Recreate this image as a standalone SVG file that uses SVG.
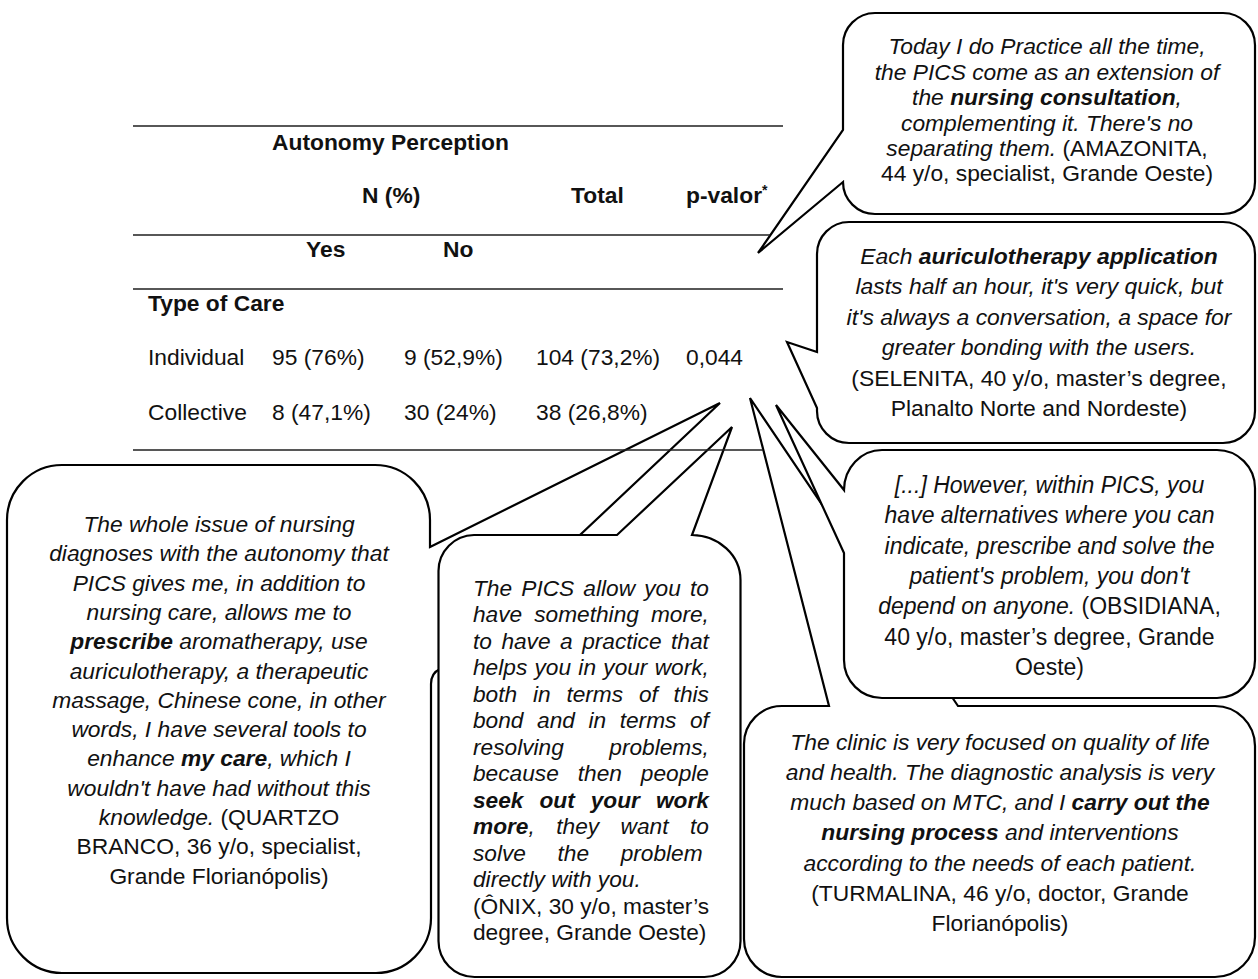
<svg xmlns="http://www.w3.org/2000/svg" width="1258" height="979" viewBox="0 0 1258 979">
<style>
.rule{stroke:#1f1f1f;stroke-width:1.6;fill:none}
.tb{font-family:"Liberation Sans",Arial,sans-serif;font-size:22.8px;fill:#111}
.b{font-weight:bold}
.co{fill:#fff;stroke:#000;stroke-width:2.2;stroke-linejoin:miter}
.q{font-family:"Liberation Sans",Arial,sans-serif;fill:#111;text-anchor:middle;font-style:italic}
.qs{font-family:"Liberation Sans",Arial,sans-serif;fill:#111;font-style:italic}
.r{font-style:normal;font-weight:normal}
</style>
<rect width="1258" height="979" fill="#fff"/>

<g id="quartzo" font-size="22.8">
<path class="co" d="M 430,547 L 720,403 L 580,535 L 580,562 L 456,562 L 456,662 L 440,669 Q 431,673 431,684 L 431,918 A 55 55 0 0 1 376,973 L 62,973 A 55 55 0 0 1 7,918 L 7,520 A 55 55 0 0 1 62,465 L 375,465 A 55 55 0 0 1 430,520 Z"/>
<text class="q" x="219" y="532">The whole issue of nursing</text>
<text class="q" x="219" y="561.3">diagnoses with the autonomy that</text>
<text class="q" x="219" y="590.6">PICS gives me, in addition to</text>
<text class="q" x="219" y="619.9">nursing care, allows me to</text>
<text class="q" x="219" y="649.2"><tspan class="b">prescribe</tspan> aromatherapy, use</text>
<text class="q" x="219" y="678.5">auriculotherapy, a therapeutic</text>
<text class="q" x="219" y="707.8">massage, Chinese cone, in other</text>
<text class="q" x="219" y="737.1">words, I have several tools to</text>
<text class="q" x="219" y="766.4">enhance <tspan class="b">my care</tspan>, which I</text>
<text class="q" x="219" y="795.7">wouldn't have had without this</text>
<text class="q" x="219" y="825">knowledge.<tspan class="r"> (QUARTZO</tspan></text>
<text class="q r" x="219" y="854.3">BRANCO, 36 y/o, specialist,</text>
<text class="q r" x="219" y="883.6">Grande Florianópolis)</text>
</g>

<g id="onix" font-size="22.7">
<path class="co" d="M 474,535 L 617,535 L 732,427 L 692,535 A 49 45 0 0 1 740.5,580 L 740.5,941 A 36 36 0 0 1 704.5,977 L 474.5,977 A 36 36 0 0 1 438.5,941 L 438.5,571 A 36 36 0 0 1 474,535 Z"/>
<text class="qs" x="473" y="595.5" word-spacing="2.86">The PICS allow you to</text>
<text class="qs" x="473" y="622" word-spacing="5.71">have something more,</text>
<text class="qs" x="473" y="648.5" word-spacing="3.16">to have a practice that</text>
<text class="qs" x="473" y="675" word-spacing="0.97">helps you in your work,</text>
<text class="qs" x="473" y="701.5" word-spacing="9.48">both in terms of this</text>
<text class="qs" x="473" y="728" word-spacing="7.27">bond and in terms of</text>
<text class="qs" x="473" y="754.5" word-spacing="39.2">resolving problems,</text>
<text class="qs" x="473" y="781" word-spacing="12.63">because then people</text>
<text class="qs b" x="473" y="807.5" word-spacing="9.7">seek out your work</text>
<text class="qs" x="473" y="834" word-spacing="15.16"><tspan class="b">more</tspan>, they want to</text>
<text class="qs" x="473" y="860.5" word-spacing="25.27">solve the problem</text>
<text class="qs" x="473" y="887">directly with you.</text>
<text class="qs r" x="473" y="913.5">(ÔNIX, 30 y/o, master’s</text>
<text class="qs r" x="473" y="940">degree, Grande Oeste)</text>
</g>

<g id="turmalina" font-size="22.8">
<path class="co" d="M 782,706 L 829,706 L 750,398 L 958,706 L 1215,706 A 40 40 0 0 1 1255,746 L 1255,937 A 40 40 0 0 1 1215,977 L 782,977 A 38 38 0 0 1 744,939 L 744,744 A 38 38 0 0 1 782,706 Z"/>
<text class="q" x="1000" y="749.5">The clinic is very focused on quality of life</text>
<text class="q" x="1000" y="779.8">and health. The diagnostic analysis is very</text>
<text class="q" x="1000" y="810.1">much based on MTC, and I <tspan class="b">carry out the</tspan></text>
<text class="q" x="1000" y="840.4"><tspan class="b">nursing process</tspan> and interventions</text>
<text class="q" x="1000" y="870.7">according to the needs of each patient.</text>
<text class="q r" x="1000" y="901">(TURMALINA, 46 y/o, doctor, Grande</text>
<text class="q r" x="1000" y="931.3">Florianópolis)</text>
</g>

<g id="obsidiana" font-size="23">
<path class="co" d="M 882,450 L 1217,450 A 38 38 0 0 1 1255,488 L 1255,660 A 38 38 0 0 1 1217,698 L 882,698 A 38 38 0 0 1 844,660 L 844,553 L 776,405 L 844,490 A 38 40 0 0 1 882,450 Z"/>
<text class="q" x="1049.5" y="493">[...] However, within PICS, you</text>
<text class="q" x="1049.5" y="523.3">have alternatives where you can</text>
<text class="q" x="1049.5" y="553.6">indicate, prescribe and solve the</text>
<text class="q" x="1049.5" y="583.9">patient's problem, you don't</text>
<text class="q" x="1049.5" y="614.2">depend on anyone.<tspan class="r"> (OBSIDIANA,</tspan></text>
<text class="q r" x="1049.5" y="644.5">40 y/o, master’s degree, Grande</text>
<text class="q r" x="1049.5" y="674.8">Oeste)</text>
</g>

<g id="selenita" font-size="22.9">
<path class="co" d="M 849,222 L 1223,222 A 32 32 0 0 1 1255,254 L 1255,411 A 32 32 0 0 1 1223,443 L 849,443 A 32 32 0 0 1 817,411 L 817,408 L 787,342 L 817,352 L 817,254 A 32 32 0 0 1 849,222 Z"/>
<text class="q" x="1039" y="264">Each <tspan class="b">auriculotherapy application</tspan></text>
<text class="q" x="1039" y="294.4">lasts half an hour, it's very quick, but</text>
<text class="q" x="1039" y="324.8">it's always a conversation, a space for</text>
<text class="q" x="1039" y="355.2">greater bonding with the users.</text>
<text class="q r" x="1039" y="385.6">(SELENITA, 40 y/o, master’s degree,</text>
<text class="q r" x="1039" y="416">Planalto Norte and Nordeste)</text>
</g>

<g id="amazonita" font-size="22.8">
<path class="co" d="M 875,13 L 1223,13 A 32 32 0 0 1 1255,45 L 1255,182 A 32 32 0 0 1 1223,214 L 875,214 A 32 32 0 0 1 843,182 L 758,253 L 843,130 L 843,45 A 32 32 0 0 1 875,13 Z"/>
<text class="q" x="1047" y="54">Today I do Practice all the time,</text>
<text class="q" x="1047" y="79.5">the PICS come as an extension of</text>
<text class="q" x="1047" y="105">the <tspan class="b">nursing consultation</tspan>,</text>
<text class="q" x="1047" y="130.5">complementing it. There's no</text>
<text class="q" x="1047" y="156">separating them.<tspan class="r"> (AMAZONITA,</tspan></text>
<text class="q r" x="1047" y="181">44 y/o, specialist, Grande Oeste)</text>
</g>

<g id="table">
<line class="rule" x1="133" y1="126" x2="783" y2="126"/>
<line class="rule" x1="133" y1="235" x2="770" y2="235"/>
<line class="rule" x1="133" y1="289" x2="783" y2="289"/>
<line class="rule" x1="133" y1="450" x2="763" y2="450"/>
<text class="tb b" x="272" y="150">Autonomy Perception</text>
<text class="tb b" x="362" y="203">N (%)</text>
<text class="tb b" x="571" y="203">Total</text>
<text class="tb b" x="686" y="203">p-valor<tspan font-size="14" dy="-8">*</tspan></text>
<text class="tb b" x="306" y="257">Yes</text>
<text class="tb b" x="443" y="257">No</text>
<text class="tb b" x="148" y="311">Type of Care</text>
<text class="tb" x="148" y="365">Individual</text>
<text class="tb" x="272" y="365">95 (76%)</text>
<text class="tb" x="404" y="365">9 (52,9%)</text>
<text class="tb" x="536" y="365">104 (73,2%)</text>
<text class="tb" x="686" y="365">0,044</text>
<text class="tb" x="148" y="420">Collective</text>
<text class="tb" x="272" y="420">8 (47,1%)</text>
<text class="tb" x="404" y="420">30 (24%)</text>
<text class="tb" x="536" y="420">38 (26,8%)</text>
</g>
</svg>
